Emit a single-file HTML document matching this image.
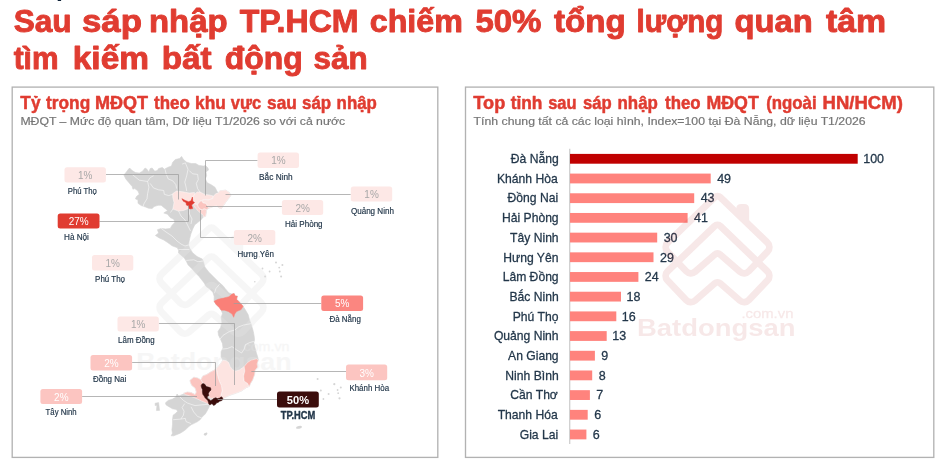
<!DOCTYPE html>
<html><head><meta charset="utf-8"><title>Batdongsan</title>
<style>
html,body{margin:0;padding:0;background:#fff;}
body{width:941px;height:467px;overflow:hidden;font-family:"Liberation Sans",sans-serif;}
svg{display:block;font-family:"Liberation Sans",sans-serif;}
</style></head><body>
<svg width="941" height="467" viewBox="0 0 941 467">
<rect width="941" height="467" fill="#ffffff"/>
<!-- cut-off descender remnants at top -->
<rect x="57.7" y="0" width="3.4" height="1.0" fill="#0d2137"/>
<!-- panels -->
<rect x="12.2" y="87.1" width="425.6" height="370.3" fill="#fff" stroke="#b2b2b2" stroke-width="1.33"/>
<rect x="465.5" y="87.1" width="468.3" height="370.3" fill="#fff" stroke="#b2b2b2" stroke-width="1.33"/>
<!-- map -->
<polygon points="123.9,175.1 126.4,171.9 128.4,169.3 129.6,168.0 132.2,170.6 135.4,172.5 139.3,173.1 142.5,171.2 145.1,168.0 147.0,169.3 148.9,171.9 150.2,168.6 152.1,168.0 154.7,171.2 157.3,170.6 158.6,168.6 162.4,167.4 164.3,169.3 167.6,167.4 171.4,166.1 172.7,162.2 175.3,159.6 179.6,158.4 181.6,156.4 183.5,159.6 186.7,162.2 191.2,163.5 195.7,163.5 198.9,165.4 203.4,166.1 205.5,165.5 207.9,168.0 208.6,169.9 206.0,171.9 206.6,175.7 205.3,178.9 207.3,182.8 211.1,184.7 215.0,187.3 216.9,191.1 218.2,193.1 220.1,190.5 222.4,190.6 225.6,190.1 229.5,192.7 230.8,195.6 228.2,199.1 225.6,202.4 223.1,206.2 221.1,208.8 218.6,207.5 216.6,205.9 213.4,206.5 210.8,207.5 208.7,208.3 206.6,209.6 206.3,212.6 205.6,216.2 203.1,217.1 201.2,219.7 198.0,222.3 194.8,224.8 192.9,228.7 190.9,233.8 189.6,239.0 188.4,245.0 190.1,248.9 192.6,252.7 197.1,256.6 202.3,259.1 203.6,262.4 204.8,266.9 208.7,272.0 213.8,277.1 219.0,282.3 222.8,285.5 225.1,288.4 228.9,292.9 232.1,294.1 234.1,293.5 235.3,296.1 237.3,296.1 236.6,299.3 239.8,302.5 243.1,306.3 245.6,310.2 248.2,314.7 249.5,319.8 251.4,325.0 253.3,331.4 254.3,337.0 254.5,340.1 253.8,342.7 255.1,347.9 256.4,353.0 257.7,356.9 258.3,360.1 257.1,363.9 257.7,367.1 255.1,370.3 254.5,374.8 252.6,380.0 250.6,383.2 249.3,386.4 246.1,387.7 241.6,390.9 237.1,392.8 230.7,395.0 225.5,397.3 223.0,398.7 221.4,401.0 218.8,401.6 216.3,403.6 213.7,405.5 211.8,404.2 209.8,404.8 209.1,406.9 207.2,410.7 205.3,413.9 202.1,417.1 200.1,419.7 197.6,421.6 193.7,423.6 191.1,424.8 188.6,426.8 186.0,429.3 183.4,431.3 180.2,433.2 177.0,434.5 173.8,435.8 171.2,435.8 172.5,433.2 171.9,430.0 172.5,424.8 172.5,419.7 173.1,415.2 175.7,413.3 177.6,411.3 176.3,409.4 172.5,408.8 169.3,406.9 166.1,404.9 165.4,403.0 168.0,400.4 172.5,399.1 175.7,397.2 177.0,394.0 178.9,395.9 182.1,394.6 184.7,394.0 183.5,393.3 187.4,392.0 191.2,392.6 195.1,394.6 196.3,392.0 195.1,388.1 191.9,385.6 190.6,383.0 189.9,380.4 193.8,377.2 197.6,377.9 200.8,379.8 202.8,375.9 206.6,374.6 210.5,372.1 214.3,370.1 216.3,368.2 217.9,367.1 220.6,363.5 223.0,360.1 221.1,356.9 221.1,351.7 223.0,347.9 222.4,343.4 220.4,338.9 218.5,335.2 218.0,331.4 220.6,327.6 221.9,322.4 221.2,317.3 222.5,313.4 221.2,310.2 219.3,307.6 216.1,304.4 214.1,301.2 214.2,296.5 212.9,292.2 209.0,288.4 206.1,286.5 204.2,283.0 201.6,279.7 199.1,276.5 195.2,272.6 192.0,268.8 188.1,264.9 186.2,261.1 184.3,257.9 181.1,255.3 178.6,253.0 178.6,250.3 177.3,247.7 172.1,245.8 167.6,242.5 163.8,240.0 159.3,238.0 155.4,235.5 158.6,232.9 157.4,229.7 161.2,228.4 165.7,229.0 170.2,228.4 172.1,225.2 174.7,222.6 174.0,219.4 170.2,217.5 167.6,214.3 163.8,213.0 167.6,210.4 164.4,207.9 161.2,205.3 158.0,205.3 154.1,206.6 152.2,208.5 148.5,208.2 145.0,206.8 141.2,205.6 138.0,203.3 138.0,200.1 135.4,198.8 136.7,196.3 139.3,194.3 138.0,191.1 134.8,188.6 132.9,189.2 132.2,186.6 129.0,182.8 125.8,178.9" fill="#d5d5d5" stroke="#d5d5d5" stroke-width="0.6" stroke-linejoin="round"/>
<polygon points="155.1,403.2 158.6,402.6 159.6,410.4 156.4,410.6 156.9,405.6 155.1,405.6" fill="#d5d5d5" stroke="#d5d5d5" stroke-width="0.5" stroke-linejoin="round"/>
<circle cx="205.3" cy="434.3" r="1.4" fill="#d5d5d5"/>
<circle cx="206.4" cy="433.6" r="1.0" fill="#d5d5d5"/>
<circle cx="276" cy="262.5" r="1.0" fill="#d5d5d5"/>
<circle cx="282.4" cy="265.1" r="1.0" fill="#d5d5d5"/>
<circle cx="279.2" cy="267.6" r="0.9" fill="#d5d5d5"/>
<circle cx="279.8" cy="271.5" r="0.9" fill="#d5d5d5"/>
<circle cx="281.1" cy="276.6" r="1.0" fill="#d5d5d5"/>
<circle cx="269.6" cy="271.5" r="0.9" fill="#d5d5d5"/>
<circle cx="262.5" cy="268.5" r="0.9" fill="#d5d5d5"/>
<circle cx="265.1" cy="276.6" r="1.0" fill="#d5d5d5"/>
<circle cx="254.8" cy="281.8" r="0.8" fill="#d5d5d5"/>
<circle cx="259.3" cy="256.7" r="0.7" fill="#d5d5d5"/>
<circle cx="317.6" cy="379.1" r="1.0" fill="#d5d5d5"/>
<circle cx="334.3" cy="384.2" r="1.1" fill="#d5d5d5"/>
<circle cx="340.8" cy="387.4" r="1.0" fill="#d5d5d5"/>
<circle cx="337.6" cy="390" r="0.9" fill="#d5d5d5"/>
<circle cx="338.2" cy="393.2" r="0.9" fill="#d5d5d5"/>
<circle cx="339.5" cy="398.3" r="1.1" fill="#d5d5d5"/>
<circle cx="328.6" cy="393.9" r="1.0" fill="#d5d5d5"/>
<circle cx="320.8" cy="390.6" r="1.0" fill="#d5d5d5"/>
<circle cx="323.4" cy="399" r="0.9" fill="#d5d5d5"/>
<ellipse cx="299" cy="427.3" rx="3.0" ry="1.4" fill="#d5d5d5" transform="rotate(-12 299 427.3)"/>
<g opacity="0.34"><g fill="none" stroke="#e6e6e6" stroke-width="6.8" stroke-linejoin="round"><path d="M208.73,228.86 A4.00,4.00 0 0 1 214.27,228.86 L261.32,274.03 A6.50,6.50 0 0 1 261.52,283.21 L242.79,302.83 A6.50,6.50 0 0 1 233.82,303.24 L214.13,286.09 A4.00,4.00 0 0 0 208.87,286.09 L189.18,303.24 A6.50,6.50 0 0 1 180.21,302.83 L161.48,283.21 A6.50,6.50 0 0 1 161.68,274.03 Z M208.73,257.66 A4.00,4.00 0 0 1 214.27,257.66 L261.32,302.83 A6.50,6.50 0 0 1 261.52,312.01 L242.79,331.63 A6.50,6.50 0 0 1 233.82,332.04 L214.13,314.89 A4.00,4.00 0 0 0 208.87,314.89 L189.18,332.04 A6.50,6.50 0 0 1 180.21,331.63 L161.48,312.01 A6.50,6.50 0 0 1 161.68,302.83 Z"/></g><path d="M230.20,240.94 L230.20,240.50 Q230.20,235.50 235.20,235.50 L238.10,235.50 Q243.10,235.50 243.10,240.50 L243.10,253.32 Z" fill="#e6e6e6"/></g>
<text transform="translate(136.36,369.80) scale(1.1445,1)" font-size="23.5" font-weight="bold" fill="#e6e6e6" opacity="0.34">Batdongsan</text>
<text transform="translate(239.54,351.20) scale(1.1245,1)" font-size="12.7" fill="#e6e6e6" opacity="0.34" stroke="#e6e6e6" stroke-width="0.3" stroke-linejoin="round">.com.vn</text>
<polygon points="172.8,197.6 172.6,193.7 176.4,191.1 182.9,191.8 189.3,193.1 194.4,192.4 195.0,196.0 193.0,200.0 194.6,202.6 191.6,205.1 192.8,208.6 188.2,208.5 183.7,210.4 178.6,211.1 172.8,209.1 174.0,202.7" fill="#fde4e1" stroke="#ffffff" stroke-opacity="0.7" stroke-width="0.6" stroke-linejoin="round"/>
<polygon points="192.8,197.0 194.6,194.4 197.1,191.9 200.6,192.3 204.8,194.4 209.1,194.9 213.4,196.1 212.5,198.7 208.3,200.0 204.8,199.6 202.3,200.4 199.7,201.3 197.6,204.3 195.8,204.3 193.7,203.0 194.6,202.6 192.8,201.3" fill="#fde4e1" stroke="#ffffff" stroke-opacity="0.7" stroke-width="0.6" stroke-linejoin="round"/>
<polygon points="213.4,196.1 216.0,193.6 218.2,193.1 220.1,190.5 222.4,190.6 225.6,190.1 229.5,192.7 230.8,195.6 228.2,199.1 225.6,202.4 223.1,206.2 221.1,208.8 218.6,207.5 216.6,205.9 213.4,206.5 210.8,207.5 208.7,208.1 207.4,205.6 205.7,203.4 203.1,203.0 201.4,200.8 202.3,200.4 204.8,199.6 208.3,200.0 212.5,198.7" fill="#fde4e1" stroke="#ffffff" stroke-opacity="0.7" stroke-width="0.6" stroke-linejoin="round"/>
<polygon points="193.7,203.4 195.8,204.3 197.6,204.7 198.4,206.8 200.1,209.0 202.3,209.8 204.0,208.6 206.6,209.6 206.3,212.6 205.6,216.2 203.1,217.1 203.1,215.0 200.6,213.3 198.0,210.7 195.4,208.1 193.7,205.6" fill="#fcd5d1" stroke="#ffffff" stroke-opacity="0.7" stroke-width="0.6" stroke-linejoin="round"/>
<polygon points="197.6,204.7 199.3,202.1 201.4,200.8 203.1,203.0 205.7,203.4 207.4,205.6 208.7,208.1 206.6,209.4 204.0,208.6 202.3,209.8 200.1,209.0 198.4,206.8" fill="#fbc4bf" stroke="#ffffff" stroke-opacity="0.7" stroke-width="0.6" stroke-linejoin="round"/>
<polygon points="181.9,198.7 183.4,201.3 186.0,202.6 186.4,205.1 188.6,206.0 189.4,209.0 192.8,208.6 191.6,205.1 194.6,202.6 192.8,201.3 192.4,197.0 191.1,200.8 188.6,201.7 185.1,200.4" fill="#e03a30" stroke="#e03a30" stroke-width="0.5" stroke-linejoin="round"/>
<polygon points="214.1,301.2 218.0,299.3 223.8,298.0 228.9,296.7 232.1,294.1 234.1,293.5 235.3,296.1 237.3,296.1 236.6,299.3 239.8,302.5 243.1,306.3 241.1,309.6 236.6,311.5 234.7,314.1 233.7,317.3 232.1,314.1 228.3,311.5 224.4,310.2 221.2,310.2 219.3,307.6 216.1,304.4" fill="#fa8078" stroke="#fa8078" stroke-width="0.5" stroke-linejoin="round"/>
<polygon points="223.0,360.1 226.2,360.7 228.8,362.6 230.1,366.5 232.6,369.7 235.8,371.0 239.7,369.7 243.6,367.1 244.2,366.5 244.8,371.0 243.6,376.1 244.2,381.3 247.4,383.2 249.3,386.4 246.1,387.7 241.6,390.9 237.1,392.8 230.7,395.0 225.5,397.3 223.0,398.7 222.1,398.4 220.8,395.8 222.1,390.7 221.4,385.6 219.5,381.7 218.2,377.9 216.9,372.7 216.3,368.2 217.9,367.1 220.6,363.5" fill="#fde4e1" stroke="#ffffff" stroke-opacity="0.7" stroke-width="0.6" stroke-linejoin="round"/>
<polygon points="256.4,358.8 258.3,360.1 257.1,363.9 257.7,367.1 255.1,370.3 254.5,374.8 252.6,380.0 250.6,383.2 249.3,386.4 247.4,383.2 244.2,381.3 243.6,376.1 244.8,371.0 244.2,366.5 247.4,362.6 251.3,360.1" fill="#fab6af" stroke="#ffffff" stroke-opacity="0.7" stroke-width="0.6" stroke-linejoin="round"/>
<polygon points="200.8,379.8 202.8,375.9 206.6,374.6 210.5,372.1 214.3,370.1 216.3,368.2 216.9,372.7 218.2,377.9 219.5,381.7 221.4,385.6 222.1,390.7 220.8,395.8 222.1,398.4 221.4,397.1 219.5,398.7 216.9,397.8 213.7,398.2 210.5,398.4 208.6,395.8 208.9,392.6 210.9,390.1 209.8,387.5 206.6,386.2 204.1,383.6 202.8,383.0" fill="#fbcbc7" stroke="#ffffff" stroke-opacity="0.7" stroke-width="0.6" stroke-linejoin="round"/>
<polygon points="189.9,380.4 193.8,377.2 197.6,377.9 200.8,379.8 202.8,383.0 201.5,385.6 202.1,390.7 204.1,395.8 206.6,399.7 208.6,401.5 209.8,404.8 207.3,403.6 204.7,402.3 201.5,401.0 197.6,399.1 193.1,397.1 189.3,395.8 185.4,394.6 183.5,393.3 187.4,392.0 191.2,392.6 195.1,394.6 196.3,392.0 195.1,388.1 191.9,385.6 190.6,383.0" fill="#fbc4bf" stroke="#ffffff" stroke-opacity="0.7" stroke-width="0.6" stroke-linejoin="round"/>
<polygon points="201.1,385.7 202.0,384.0 203.3,383.6 205.0,384.4 206.3,386.6 208.4,387.0 210.6,387.8 211.0,390.0 209.3,391.7 208.4,393.4 208.8,395.6 207.1,396.8 207.6,398.6 209.3,399.4 210.6,400.7 212.3,399.8 213.6,398.6 215.7,397.7 217.4,398.6 219.6,398.1 221.3,396.8 222.5,397.7 223.0,399.4 221.3,400.7 219.6,401.1 218.3,402.4 216.6,402.8 215.3,404.6 213.6,405.4 212.7,404.1 211.0,403.7 210.1,405.0 208.8,404.1 208.4,402.0 207.6,400.3 206.3,399.0 205.0,397.7 204.1,396.0 202.8,394.3 202.4,392.1 202.4,389.6 201.6,387.8" fill="#3a0c0b" stroke="#3a0c0b" stroke-width="0.5" stroke-linejoin="round"/>
<polyline points="132.2,174.4 139.3,180.2 147.6,181.5 150.2,177.6 153.7,175.7" fill="none" stroke="#ffffff" stroke-opacity="0.75" stroke-width="0.7" stroke-linejoin="round"/>
<polyline points="147.6,181.5 148.9,187.3 147.6,193.7 147.0,198.8 143.8,204.0 143.1,206.6" fill="none" stroke="#ffffff" stroke-opacity="0.75" stroke-width="0.7" stroke-linejoin="round"/>
<polyline points="150.2,183.4 153.4,187.9 158.6,189.8 163.7,190.5 164.3,194.3 168.8,195.6 172.7,194.3" fill="none" stroke="#ffffff" stroke-opacity="0.75" stroke-width="0.7" stroke-linejoin="round"/>
<polyline points="165.0,169.3 166.3,174.4 168.2,178.9 172.7,180.8 175.9,184.7 176.6,188.6" fill="none" stroke="#ffffff" stroke-opacity="0.75" stroke-width="0.7" stroke-linejoin="round"/>
<polyline points="182.2,164.1 185.4,162.9 188.0,169.3 186.7,175.7 184.8,182.1 186.1,187.3 186.7,191.1" fill="none" stroke="#ffffff" stroke-opacity="0.75" stroke-width="0.7" stroke-linejoin="round"/>
<polyline points="189.3,170.6 192.5,173.8 197.6,174.4 198.3,179.6 196.3,183.4 197.6,188.6 200.2,192.4" fill="none" stroke="#ffffff" stroke-opacity="0.75" stroke-width="0.7" stroke-linejoin="round"/>
<polyline points="178.5,249.5 189.4,249.5" fill="none" stroke="#ffffff" stroke-opacity="0.75" stroke-width="0.7" stroke-linejoin="round"/>
<polyline points="186.2,260.4 193.9,259.8 197.8,261.7 202.9,261.1" fill="none" stroke="#ffffff" stroke-opacity="0.75" stroke-width="0.7" stroke-linejoin="round"/>
<polyline points="219.6,284.2 215.8,288.7 214.5,293.2" fill="none" stroke="#ffffff" stroke-opacity="0.75" stroke-width="0.7" stroke-linejoin="round"/>
<polyline points="219.3,340.0 223.1,335.3 229.6,331.4 234.7,330.1 238.6,326.9 243.7,325.0 250.8,323.7" fill="none" stroke="#ffffff" stroke-opacity="0.75" stroke-width="0.7" stroke-linejoin="round"/>
<polyline points="222.4,349.1 227.5,348.5 232.0,346.6 236.5,349.8 241.6,353.0 244.2,349.1 245.5,344.6 249.4,342.7 253.8,341.4" fill="none" stroke="#ffffff" stroke-opacity="0.75" stroke-width="0.7" stroke-linejoin="round"/>
<polyline points="179.6,396.6 183.4,400.4 187.3,403.0 191.1,404.3 195.0,405.6 201.4,404.9 208.5,404.3" fill="none" stroke="#ffffff" stroke-opacity="0.75" stroke-width="0.7" stroke-linejoin="round"/>
<polyline points="184.7,403.6 182.1,407.5 184.1,411.3 183.4,415.2 180.8,419.1 173.1,419.7" fill="none" stroke="#ffffff" stroke-opacity="0.75" stroke-width="0.7" stroke-linejoin="round"/>
<polyline points="191.1,406.9 193.7,412.0 197.6,416.5 201.4,417.8" fill="none" stroke="#ffffff" stroke-opacity="0.75" stroke-width="0.7" stroke-linejoin="round"/>
<polyline points="180.8,419.1 185.3,418.4 186.0,421.6 191.1,423.6" fill="none" stroke="#ffffff" stroke-opacity="0.75" stroke-width="0.7" stroke-linejoin="round"/>
<polyline points="172.8,209.1 170.5,212.5" fill="none" stroke="#ffffff" stroke-opacity="0.75" stroke-width="0.7" stroke-linejoin="round"/>
<polyline points="189.4,209.0 189.5,214.0 192.0,219.0 191.0,224.0" fill="none" stroke="#ffffff" stroke-opacity="0.75" stroke-width="0.7" stroke-linejoin="round"/>
<polyline points="178.6,211.1 181.0,216.0 185.0,220.0 188.0,226.0 190.5,231.0" fill="none" stroke="#ffffff" stroke-opacity="0.75" stroke-width="0.7" stroke-linejoin="round"/>
<polyline points="161.2,228.4 166.0,232.0 172.0,236.0 177.0,241.0 181.0,244.0 185.0,246.0 188.4,245.0" fill="none" stroke="#ffffff" stroke-opacity="0.75" stroke-width="0.7" stroke-linejoin="round"/>
<polyline points="105.9,174.5 178.5,174.5 178.5,199.5" fill="none" stroke="#9e9e9e" stroke-width="0.75"/>
<polyline points="99.5,221.5 188.5,221.5 188.5,205.5" fill="none" stroke="#9e9e9e" stroke-width="0.75"/>
<polyline points="257.6,160.5 205.5,160.5 205.5,195.5" fill="none" stroke="#9e9e9e" stroke-width="0.75"/>
<polyline points="350.8,194.5 225.5,194.5" fill="none" stroke="#9e9e9e" stroke-width="0.75"/>
<polyline points="281.9,206.5 206.0,206.5" fill="none" stroke="#9e9e9e" stroke-width="0.75"/>
<polyline points="233.9,237.5 200.5,237.5 200.5,210.0" fill="none" stroke="#9e9e9e" stroke-width="0.75"/>
<polyline points="321.3,303.5 233.7,303.5" fill="none" stroke="#9e9e9e" stroke-width="0.75"/>
<polyline points="158.8,323.5 234.5,323.5 234.5,385.0" fill="none" stroke="#9e9e9e" stroke-width="0.75"/>
<polyline points="132.1,362.5 215.5,362.5 215.5,386.0" fill="none" stroke="#9e9e9e" stroke-width="0.75"/>
<polyline points="82.1,396.5 197.0,396.5" fill="none" stroke="#9e9e9e" stroke-width="0.75"/>
<polyline points="346.0,371.5 251.4,371.5" fill="none" stroke="#9e9e9e" stroke-width="0.75"/>
<polyline points="277.0,399.5 217.7,399.5" fill="none" stroke="#9e9e9e" stroke-width="0.75"/>
<rect x="64.5" y="167.3" width="41.4" height="15.2" rx="2.5" fill="#fde8e6"/>
<rect x="57.7" y="213.4" width="41.8" height="15.0" rx="2.5" fill="#e03c31"/>
<rect x="92" y="255" width="41.3" height="15.5" rx="2.5" fill="#fde8e6"/>
<rect x="257.6" y="152.6" width="41.4" height="15.3" rx="2.5" fill="#fde8e6"/>
<rect x="350.8" y="186.5" width="41.4" height="15.0" rx="2.5" fill="#fde8e6"/>
<rect x="281.9" y="200" width="41.3" height="15.0" rx="2.5" fill="#fde8e6"/>
<rect x="233.9" y="230" width="41.4" height="15.0" rx="2.5" fill="#fde8e6"/>
<rect x="321.3" y="295.4" width="41.8" height="15.7" rx="2.5" fill="#fb8680"/>
<rect x="117.5" y="316.4" width="41.3" height="15.0" rx="2.5" fill="#fde8e6"/>
<rect x="90.5" y="355" width="41.6" height="15.4" rx="2.5" fill="#fcc5c1"/>
<rect x="40.4" y="389" width="41.7" height="15.0" rx="2.5" fill="#fcc5c1"/>
<rect x="346" y="364.6" width="41.2" height="15.7" rx="2.5" fill="#fcc5c1"/>
<rect x="277" y="391.4" width="41.8" height="16.0" rx="2.5" fill="#3b0d0c"/>
<!-- bar chart -->
<line x1="569.7" y1="148.8" x2="569.7" y2="444" stroke="#d0d0d0" stroke-width="1.33"/>
<rect x="570.0" y="153.90" width="287.70" height="9.8" fill="#c00000"/>
<rect x="570.0" y="173.59" width="140.70" height="9.8" fill="#ff837d"/>
<rect x="570.0" y="193.28" width="124.20" height="9.8" fill="#ff837d"/>
<rect x="570.0" y="212.97" width="117.60" height="9.8" fill="#ff837d"/>
<rect x="570.0" y="232.66" width="87.20" height="9.8" fill="#ff837d"/>
<rect x="570.0" y="252.35" width="83.50" height="9.8" fill="#ff837d"/>
<rect x="570.0" y="272.04" width="68.40" height="9.8" fill="#ff837d"/>
<rect x="570.0" y="291.73" width="51.00" height="9.8" fill="#ff837d"/>
<rect x="570.0" y="311.42" width="46.30" height="9.8" fill="#ff837d"/>
<rect x="570.0" y="331.11" width="36.70" height="9.8" fill="#ff837d"/>
<rect x="570.0" y="350.80" width="24.90" height="9.8" fill="#ff837d"/>
<rect x="570.0" y="370.49" width="22.20" height="9.8" fill="#ff837d"/>
<rect x="570.0" y="390.18" width="19.90" height="9.8" fill="#ff837d"/>
<rect x="570.0" y="409.87" width="17.70" height="9.8" fill="#ff837d"/>
<rect x="570.0" y="429.56" width="16.40" height="9.8" fill="#ff837d"/>
<!-- texts -->
<g opacity="0.999">
<text transform="translate(13.66,32.00) scale(1.0194,1)" font-size="31.0" font-weight="bold" fill="#e03c31" stroke="#e03c31" stroke-width="0.9" stroke-linejoin="round">Sau</text>
<text transform="translate(81.88,32.00) scale(1.1244,1)" font-size="31.0" font-weight="bold" fill="#e03c31" stroke="#e03c31" stroke-width="0.9" stroke-linejoin="round">sáp</text>
<text transform="translate(148.95,32.00) scale(1.0623,1)" font-size="31.0" font-weight="bold" fill="#e03c31" stroke="#e03c31" stroke-width="0.9" stroke-linejoin="round">nhập</text>
<text transform="translate(239.67,32.00) scale(1.0360,1)" font-size="31.0" font-weight="bold" fill="#e03c31" stroke="#e03c31" stroke-width="0.9" stroke-linejoin="round">TP.HCM</text>
<text transform="translate(369.73,32.00) scale(1.0395,1)" font-size="31.0" font-weight="bold" fill="#e03c31" stroke="#e03c31" stroke-width="0.9" stroke-linejoin="round">chiếm</text>
<text transform="translate(475.38,32.00) scale(1.0660,1)" font-size="31.0" font-weight="bold" fill="#e03c31" stroke="#e03c31" stroke-width="0.9" stroke-linejoin="round">50%</text>
<text transform="translate(553.98,32.00) scale(1.0682,1)" font-size="31.0" font-weight="bold" fill="#e03c31" stroke="#e03c31" stroke-width="0.9" stroke-linejoin="round">tổng</text>
<text transform="translate(636.62,32.00) scale(0.9530,1)" font-size="31.0" font-weight="bold" fill="#e03c31" stroke="#e03c31" stroke-width="0.9" stroke-linejoin="round">lượng</text>
<text transform="translate(734.52,32.00) scale(1.0560,1)" font-size="31.0" font-weight="bold" fill="#e03c31" stroke="#e03c31" stroke-width="0.9" stroke-linejoin="round">quan</text>
<text transform="translate(825.89,32.00) scale(1.0925,1)" font-size="31.0" font-weight="bold" fill="#e03c31" stroke="#e03c31" stroke-width="0.9" stroke-linejoin="round">tâm</text>
<text transform="translate(13.63,68.70) scale(0.9643,1)" font-size="31.0" font-weight="bold" fill="#e03c31" stroke="#e03c31" stroke-width="0.9" stroke-linejoin="round">tìm</text>
<text transform="translate(72.73,68.70) scale(1.0795,1)" font-size="31.0" font-weight="bold" fill="#e03c31" stroke="#e03c31" stroke-width="0.9" stroke-linejoin="round">kiếm</text>
<text transform="translate(161.64,68.70) scale(1.0715,1)" font-size="31.0" font-weight="bold" fill="#e03c31" stroke="#e03c31" stroke-width="0.9" stroke-linejoin="round">bất</text>
<text transform="translate(224.83,68.70) scale(1.0297,1)" font-size="31.0" font-weight="bold" fill="#e03c31" stroke="#e03c31" stroke-width="0.9" stroke-linejoin="round">động</text>
<text transform="translate(313.44,68.70) scale(1.0137,1)" font-size="31.0" font-weight="bold" fill="#e03c31" stroke="#e03c31" stroke-width="0.9" stroke-linejoin="round">sản</text>
<text transform="translate(20.34,108.80) scale(0.9509,1)" font-size="18.2" font-weight="bold" fill="#e03c31" stroke="#e03c31" stroke-width="0.5" stroke-linejoin="round">Tỷ</text>
<text transform="translate(46.04,108.80) scale(0.9508,1)" font-size="18.2" font-weight="bold" fill="#e03c31" stroke="#e03c31" stroke-width="0.5" stroke-linejoin="round">trọng</text>
<text transform="translate(95.06,108.80) scale(0.9900,1)" font-size="18.2" font-weight="bold" fill="#e03c31" stroke="#e03c31" stroke-width="0.5" stroke-linejoin="round">MĐQT</text>
<text transform="translate(154.03,108.80) scale(0.9309,1)" font-size="18.2" font-weight="bold" fill="#e03c31" stroke="#e03c31" stroke-width="0.5" stroke-linejoin="round">theo</text>
<text transform="translate(195.09,108.80) scale(0.9504,1)" font-size="18.2" font-weight="bold" fill="#e03c31" stroke="#e03c31" stroke-width="0.5" stroke-linejoin="round">khu</text>
<text transform="translate(230.83,108.80) scale(0.9057,1)" font-size="18.2" font-weight="bold" fill="#e03c31" stroke="#e03c31" stroke-width="0.5" stroke-linejoin="round">vực</text>
<text transform="translate(267.04,108.80) scale(0.9502,1)" font-size="18.2" font-weight="bold" fill="#e03c31" stroke="#e03c31" stroke-width="0.5" stroke-linejoin="round">sau</text>
<text transform="translate(302.03,108.80) scale(0.9297,1)" font-size="18.2" font-weight="bold" fill="#e03c31" stroke="#e03c31" stroke-width="0.5" stroke-linejoin="round">sáp</text>
<text transform="translate(336.60,108.80) scale(0.9268,1)" font-size="18.2" font-weight="bold" fill="#e03c31" stroke="#e03c31" stroke-width="0.5" stroke-linejoin="round">nhập</text>
<text transform="translate(20.41,124.50) scale(1.0735,1)" font-size="11.4" fill="#757575" stroke="#757575" stroke-width="0.2" stroke-linejoin="round">MĐQT – Mức độ quan tâm, Dữ liệu T1/2026 so với cả nước</text>
<text transform="translate(473.35,108.80) scale(0.9979,1)" font-size="18.2" font-weight="bold" fill="#e03c31" stroke="#e03c31" stroke-width="0.5" stroke-linejoin="round">Top</text>
<text transform="translate(510.74,108.80) scale(0.9505,1)" font-size="18.2" font-weight="bold" fill="#e03c31" stroke="#e03c31" stroke-width="0.5" stroke-linejoin="round">tỉnh</text>
<text transform="translate(548.13,108.80) scale(0.9047,1)" font-size="18.2" font-weight="bold" fill="#e03c31" stroke="#e03c31" stroke-width="0.5" stroke-linejoin="round">sau</text>
<text transform="translate(583.03,108.80) scale(0.9171,1)" font-size="18.2" font-weight="bold" fill="#e03c31" stroke="#e03c31" stroke-width="0.5" stroke-linejoin="round">sáp</text>
<text transform="translate(617.50,108.80) scale(0.9292,1)" font-size="18.2" font-weight="bold" fill="#e03c31" stroke="#e03c31" stroke-width="0.5" stroke-linejoin="round">nhập</text>
<text transform="translate(665.03,108.80) scale(0.9257,1)" font-size="18.2" font-weight="bold" fill="#e03c31" stroke="#e03c31" stroke-width="0.5" stroke-linejoin="round">theo</text>
<text transform="translate(706.47,108.80) scale(0.9767,1)" font-size="18.2" font-weight="bold" fill="#e03c31" stroke="#e03c31" stroke-width="0.5" stroke-linejoin="round">MĐQT</text>
<text transform="translate(766.13,108.80) scale(0.9259,1)" font-size="18.2" font-weight="bold" fill="#e03c31" stroke="#e03c31" stroke-width="0.5" stroke-linejoin="round">(ngoài</text>
<text transform="translate(822.54,108.80) scale(1.0186,1)" font-size="18.2" font-weight="bold" fill="#e03c31" stroke="#e03c31" stroke-width="0.5" stroke-linejoin="round">HN/HCM)</text>
<text transform="translate(473.61,124.50) scale(1.0771,1)" font-size="11.4" fill="#757575" stroke="#757575" stroke-width="0.2" stroke-linejoin="round">Tính chung tất cả các loại hình, Index=100 tại Đà Nẵng, dữ liệu T1/2026</text>
<text transform="translate(510.76,163.10) scale(0.8930,1)" font-size="13.6" fill="#23374a" stroke="#23374a" stroke-width="0.3" stroke-linejoin="round">Đà Nẵng</text>
<text transform="translate(863.22,163.10) scale(0.9200,1)" font-size="13.6" fill="#23374a" stroke="#23374a" stroke-width="0.3" stroke-linejoin="round">100</text>
<text transform="translate(497.03,182.79) scale(0.8930,1)" font-size="13.6" fill="#23374a" stroke="#23374a" stroke-width="0.3" stroke-linejoin="round">Khánh Hòa</text>
<text transform="translate(717.14,182.79) scale(0.9200,1)" font-size="13.6" fill="#23374a" stroke="#23374a" stroke-width="0.3" stroke-linejoin="round">49</text>
<text transform="translate(507.58,202.48) scale(0.8930,1)" font-size="13.6" fill="#23374a" stroke="#23374a" stroke-width="0.3" stroke-linejoin="round">Đồng Nai</text>
<text transform="translate(700.64,202.48) scale(0.9200,1)" font-size="13.6" fill="#23374a" stroke="#23374a" stroke-width="0.3" stroke-linejoin="round">43</text>
<text transform="translate(501.98,222.17) scale(0.8930,1)" font-size="13.6" fill="#23374a" stroke="#23374a" stroke-width="0.3" stroke-linejoin="round">Hải Phòng</text>
<text transform="translate(694.04,222.17) scale(0.9200,1)" font-size="13.6" fill="#23374a" stroke="#23374a" stroke-width="0.3" stroke-linejoin="round">41</text>
<text transform="translate(510.09,241.86) scale(0.8930,1)" font-size="13.6" fill="#23374a" stroke="#23374a" stroke-width="0.3" stroke-linejoin="round">Tây Ninh</text>
<text transform="translate(663.64,241.86) scale(0.9200,1)" font-size="13.6" fill="#23374a" stroke="#23374a" stroke-width="0.3" stroke-linejoin="round">30</text>
<text transform="translate(503.30,261.55) scale(0.8930,1)" font-size="13.6" fill="#23374a" stroke="#23374a" stroke-width="0.3" stroke-linejoin="round">Hưng Yên</text>
<text transform="translate(659.94,261.55) scale(0.9200,1)" font-size="13.6" fill="#23374a" stroke="#23374a" stroke-width="0.3" stroke-linejoin="round">29</text>
<text transform="translate(502.66,281.24) scale(0.8930,1)" font-size="13.6" fill="#23374a" stroke="#23374a" stroke-width="0.3" stroke-linejoin="round">Lâm Đồng</text>
<text transform="translate(644.84,281.24) scale(0.9200,1)" font-size="13.6" fill="#23374a" stroke="#23374a" stroke-width="0.3" stroke-linejoin="round">24</text>
<text transform="translate(509.41,300.93) scale(0.8930,1)" font-size="13.6" fill="#23374a" stroke="#23374a" stroke-width="0.3" stroke-linejoin="round">Bắc Ninh</text>
<text transform="translate(626.52,300.93) scale(0.9200,1)" font-size="13.6" fill="#23374a" stroke="#23374a" stroke-width="0.3" stroke-linejoin="round">18</text>
<text transform="translate(512.78,320.62) scale(0.8930,1)" font-size="13.6" fill="#23374a" stroke="#23374a" stroke-width="0.3" stroke-linejoin="round">Phú Thọ</text>
<text transform="translate(621.82,320.62) scale(0.9200,1)" font-size="13.6" fill="#23374a" stroke="#23374a" stroke-width="0.3" stroke-linejoin="round">16</text>
<text transform="translate(493.88,340.31) scale(0.8930,1)" font-size="13.6" fill="#23374a" stroke="#23374a" stroke-width="0.3" stroke-linejoin="round">Quảng Ninh</text>
<text transform="translate(612.22,340.31) scale(0.9200,1)" font-size="13.6" fill="#23374a" stroke="#23374a" stroke-width="0.3" stroke-linejoin="round">13</text>
<text transform="translate(508.05,360.00) scale(0.8930,1)" font-size="13.6" fill="#23374a" stroke="#23374a" stroke-width="0.3" stroke-linejoin="round">An Giang</text>
<text transform="translate(601.34,360.00) scale(0.9200,1)" font-size="13.6" fill="#23374a" stroke="#23374a" stroke-width="0.3" stroke-linejoin="round">9</text>
<text transform="translate(505.36,379.69) scale(0.8930,1)" font-size="13.6" fill="#23374a" stroke="#23374a" stroke-width="0.3" stroke-linejoin="round">Ninh Bình</text>
<text transform="translate(598.64,379.69) scale(0.9200,1)" font-size="13.6" fill="#23374a" stroke="#23374a" stroke-width="0.3" stroke-linejoin="round">8</text>
<text transform="translate(510.32,399.38) scale(0.8930,1)" font-size="13.6" fill="#23374a" stroke="#23374a" stroke-width="0.3" stroke-linejoin="round">Cần Thơ</text>
<text transform="translate(596.34,399.38) scale(0.9200,1)" font-size="13.6" fill="#23374a" stroke="#23374a" stroke-width="0.3" stroke-linejoin="round">7</text>
<text transform="translate(497.71,419.07) scale(0.8930,1)" font-size="13.6" fill="#23374a" stroke="#23374a" stroke-width="0.3" stroke-linejoin="round">Thanh Hóa</text>
<text transform="translate(594.14,419.07) scale(0.9200,1)" font-size="13.6" fill="#23374a" stroke="#23374a" stroke-width="0.3" stroke-linejoin="round">6</text>
<text transform="translate(519.72,438.76) scale(0.8930,1)" font-size="13.6" fill="#23374a" stroke="#23374a" stroke-width="0.3" stroke-linejoin="round">Gia Lai</text>
<text transform="translate(592.84,438.76) scale(0.9200,1)" font-size="13.6" fill="#23374a" stroke="#23374a" stroke-width="0.3" stroke-linejoin="round">6</text>
<text transform="translate(78.06,179.10) scale(0.9700,1)" font-size="10.3" fill="#a8a8a8">1%</text>
<text transform="translate(67.78,193.70) scale(0.8970,1)" font-size="8.6" fill="#23374a" stroke="#23374a" stroke-width="0.18" stroke-linejoin="round">Phú Thọ</text>
<text transform="translate(68.68,225.10) scale(0.9700,1)" font-size="10.3" fill="#ffffff">27%</text>
<text transform="translate(63.99,239.60) scale(0.9496,1)" font-size="8.6" fill="#23374a" stroke="#23374a" stroke-width="0.18" stroke-linejoin="round">Hà Nội</text>
<text transform="translate(105.51,266.95) scale(0.9700,1)" font-size="10.3" fill="#a8a8a8">1%</text>
<text transform="translate(95.08,282.00) scale(0.9274,1)" font-size="8.6" fill="#23374a" stroke="#23374a" stroke-width="0.18" stroke-linejoin="round">Phú Thọ</text>
<text transform="translate(271.16,164.45) scale(0.9700,1)" font-size="10.3" fill="#a8a8a8">1%</text>
<text transform="translate(259.09,179.60) scale(0.9640,1)" font-size="8.6" fill="#23374a" stroke="#23374a" stroke-width="0.18" stroke-linejoin="round">Bắc Ninh</text>
<text transform="translate(364.36,198.20) scale(0.9700,1)" font-size="10.3" fill="#a8a8a8">1%</text>
<text transform="translate(350.88,213.50) scale(0.9402,1)" font-size="8.6" fill="#23374a" stroke="#23374a" stroke-width="0.18" stroke-linejoin="round">Quảng Ninh</text>
<text transform="translate(295.41,211.70) scale(0.9700,1)" font-size="10.3" fill="#a8a8a8">2%</text>
<text transform="translate(284.98,226.60) scale(0.9375,1)" font-size="8.6" fill="#23374a" stroke="#23374a" stroke-width="0.18" stroke-linejoin="round">Hải Phòng</text>
<text transform="translate(247.46,241.70) scale(0.9700,1)" font-size="10.3" fill="#a8a8a8">2%</text>
<text transform="translate(237.58,257.00) scale(0.9319,1)" font-size="8.6" fill="#23374a" stroke="#23374a" stroke-width="0.18" stroke-linejoin="round">Hưng Yên</text>
<text transform="translate(335.06,307.45) scale(0.9700,1)" font-size="10.3" fill="#ffffff">5%</text>
<text transform="translate(329.48,321.70) scale(0.9266,1)" font-size="8.6" fill="#23374a" stroke="#23374a" stroke-width="0.18" stroke-linejoin="round">Đà Nẵng</text>
<text transform="translate(131.01,328.10) scale(0.9700,1)" font-size="10.3" fill="#a8a8a8">1%</text>
<text transform="translate(118.08,342.50) scale(0.9238,1)" font-size="8.6" fill="#23374a" stroke="#23374a" stroke-width="0.18" stroke-linejoin="round">Lâm Đồng</text>
<text transform="translate(104.16,366.90) scale(0.9700,1)" font-size="10.3" fill="#ffffff">2%</text>
<text transform="translate(92.98,381.50) scale(0.9280,1)" font-size="8.6" fill="#23374a" stroke="#23374a" stroke-width="0.18" stroke-linejoin="round">Đồng Nai</text>
<text transform="translate(54.11,400.70) scale(0.9700,1)" font-size="10.3" fill="#ffffff">2%</text>
<text transform="translate(45.58,415.00) scale(0.9055,1)" font-size="8.6" fill="#23374a" stroke="#23374a" stroke-width="0.18" stroke-linejoin="round">Tây Ninh</text>
<text transform="translate(359.46,376.65) scale(0.9700,1)" font-size="10.3" fill="#ffffff">3%</text>
<text transform="translate(349.38,390.80) scale(0.9239,1)" font-size="8.6" fill="#23374a" stroke="#23374a" stroke-width="0.18" stroke-linejoin="round">Khánh Hòa</text>
<text transform="translate(286.85,403.70) scale(0.9700,1)" font-size="11.5" font-weight="bold" fill="#ffffff">50%</text>
<text transform="translate(280.76,418.50) scale(0.9336,1)" font-size="10.0" font-weight="bold" fill="#23374a" stroke="#23374a" stroke-width="0.35" stroke-linejoin="round">TP.HCM</text>
</g>
<!-- watermarks -->
<g opacity="0.11"><g fill="none" stroke="#b83232" stroke-width="6.8" stroke-linejoin="round"><path d="M714.73,197.26 A4.00,4.00 0 0 1 720.27,197.26 L767.32,242.43 A6.50,6.50 0 0 1 767.52,251.61 L748.79,271.23 A6.50,6.50 0 0 1 739.82,271.64 L720.13,254.49 A4.00,4.00 0 0 0 714.87,254.49 L695.18,271.64 A6.50,6.50 0 0 1 686.21,271.23 L667.48,251.61 A6.50,6.50 0 0 1 667.68,242.43 Z M714.73,226.06 A4.00,4.00 0 0 1 720.27,226.06 L767.32,271.23 A6.50,6.50 0 0 1 767.52,280.41 L748.79,300.03 A6.50,6.50 0 0 1 739.82,300.44 L720.13,283.29 A4.00,4.00 0 0 0 714.87,283.29 L695.18,300.44 A6.50,6.50 0 0 1 686.21,300.03 L667.48,280.41 A6.50,6.50 0 0 1 667.68,271.23 Z"/></g><path d="M736.20,209.34 L736.20,208.90 Q736.20,203.90 741.20,203.90 L744.10,203.90 Q749.10,203.90 749.10,208.90 L749.10,221.72 Z" fill="#b83232"/></g>
<text transform="translate(636.93,336.10) scale(1.1685,1)" font-size="23.5" font-weight="bold" fill="#b83232" opacity="0.11">Batdongsan</text>
<text transform="translate(741.41,318.40) scale(1.1703,1)" font-size="12.7" fill="#b83232" opacity="0.11" stroke="#b83232" stroke-width="0.3" stroke-linejoin="round">.com.vn</text>
</svg>
</body></html>
